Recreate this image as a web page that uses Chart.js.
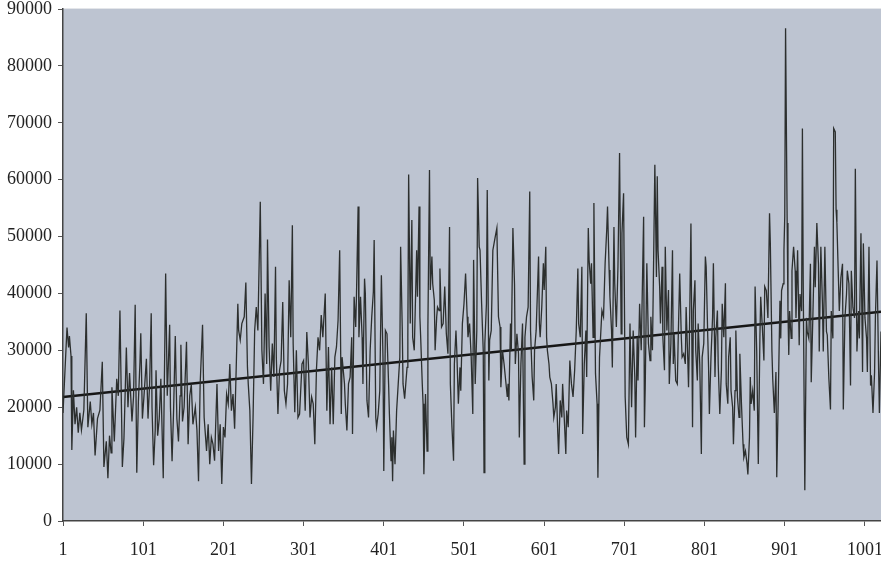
<!DOCTYPE html>
<html><head><meta charset="utf-8">
<script src="https://cdn.jsdelivr.net/npm/chart.js@4/dist/chart.umd.min.js"></script>
<style>html,body{margin:0;padding:0;background:#fff;}canvas{display:block;}</style>
</head><body>
<canvas id="c" width="881" height="566"></canvas>
<script>
const sampleIndex = [
1,6,8,9,11,12,14,16,18,20,
22,24,27,30,32,35,37,39,41,44,
47,50,52,55,57,59,61,62,65,68,
70,72,74,75,77,80,82,84,87,89,
91,93,95,97,98,100,102,105,107,109,
111,112,114,116,117,119,121,123,126,127,
129,131,132,134,135,137,139,141,143,145,
147,148,150,152,155,157,159,161,163,166,
168,170,172,175,177,180,182,184,186,188,
190,193,195,197,199,201,203,205,207,209,
211,213,215,217,219,220,222,224,227,229,
231,232,234,236,238,240,242,244,247,249,
251,253,255,256,258,260,262,264,266,267,
269,271,273,275,277,279,281,283,285,287,
288,290,292,294,296,299,301,303,305,307,
309,311,313,315,317,319,321,323,325,328,
330,332,334,336,338,340,342,344,346,348,
349,352,353,355,357,359,361,362,364,366,
367,369,370,372,374,375,377,378,380,382,
384,386,388,389,391,392,394,396,398,400,
401,403,405,407,408,410,411,412,413,415,
417,419,421,422,424,425,427,430,431,432,
434,436,437,439,441,442,443,445,446,447,
449,450,451,453,455,456,458,459,461,462,
464,465,467,468,470,471,473,475,477,479,
481,483,484,486,488,489,491,492,494,496,
497,499,501,503,505,506,508,510,512,513,
515,517,518,520,521,523,525,526,527,529,
530,532,533,535,537,540,542,544,546,547,
549,551,553,555,556,557,559,560,562,564,
565,567,569,570,572,574,576,577,579,581,
583,584,586,588,589,591,594,595,596,598,
600,601,603,604,605,607,608,610,612,613,
615,616,618,619,621,623,624,626,628,629,
631,633,635,637,639,641,643,644,646,648,
649,651,653,654,656,657,659,660,662,663,
665,667,668,670,673,675,677,679,680,682,
683,685,686,688,689,691,693,695,697,698,
700,702,704,706,708,710,712,714,715,717,
718,720,722,723,725,726,727,729,731,733,
734,736,737,739,741,742,743,745,746,748,
749,751,752,754,756,757,759,761,762,763,
765,767,768,770,772,773,775,777,778,780,
781,782,784,786,787,789,790,792,793,795,
797,798,800,802,803,805,806,807,809,811,
812,814,815,817,818,820,822,823,825,827,
828,830,831,833,834,836,837,839,840,842,
844,845,847,849,850,852,854,855,857,858,
859,861,863,864,866,868,870,871,873,875,
876,878,880,882,883,885,886,888,890,891,
893,895,896,897,899,900,901,902,904,905,
906,907,909,910,912,914,915,917,919,920,
922,923,924,926,928,929,931,933,934,936,
938,939,941,943,944,946,948,949,951,953,
954,956,958,959,961,962,964,965,966,968,
969,971,973,974,976,978,979,981,983,984,
986,988,989,991,993,994,996,998,999,1001,
1003,1004,1006,1008,1009,1011,1013,1014,1016,1018,
1019,1021
];
const sampleValue = [
19000,34000,30500,32500,29000,12500,23000,17000,20000,15500,
19000,16000,19500,36500,16500,21000,17000,19000,11500,18000,
19500,28000,9500,14000,7500,15000,12000,23500,14000,25000,
22000,37000,19000,9500,14500,30500,20000,26000,17500,22000,
38000,8500,21000,28000,33000,18000,22000,28500,18000,24000,
36500,20000,9800,16000,26500,15000,18000,25000,7500,20000,
43500,22000,26000,34500,20000,10500,20000,32500,18000,14000,
22000,31000,17500,20000,31500,13500,22000,24000,17000,20000,
16000,7000,24000,34500,18200,12300,17000,10000,14700,13500,
10600,24100,12300,17000,6500,16500,14700,22300,20600,27600,
19400,22300,16200,27000,38200,33500,31800,34700,35900,41900,
27000,24100,19400,6500,18200,33500,37600,33500,56100,30000,
24100,40000,27600,49500,30600,22900,31200,25300,44700,28800,
18800,26500,28200,38500,22900,20600,24100,42300,32300,52000,
31200,19100,30000,18200,18800,27600,28200,19400,33200,27600,
18200,21800,20600,13500,26500,32300,30000,36200,32300,40000,
19400,30600,17000,27000,17000,28800,30600,35300,47600,18800,
28800,24100,20600,15900,24100,25300,32300,15300,39400,34100,
40000,55300,32300,39400,32300,24100,42600,40000,21200,18200,
30000,35900,40300,49400,18200,16500,18800,22900,43200,28800,
8800,33500,32900,24100,18800,10600,14700,7000,15900,10000,
19400,24100,28800,48200,34100,24100,21500,27000,32300,60900,
34700,52900,32300,30000,41700,47600,39400,55300,35900,32300,
24100,20600,8200,22300,12300,34100,61700,40600,46500,41700,
38800,30000,35900,37600,37000,44400,34100,34700,41200,32900,
29400,51700,24100,16500,10600,27600,33500,30000,20600,27000,
22900,34700,38200,43500,35900,32300,34700,28800,18800,45900,
24100,33500,60300,48200,47600,38200,30000,8500,31200,38200,
58200,24700,31800,33500,47600,50000,51500,35900,34100,23500,
30000,27600,24700,21800,24100,21200,34700,30000,51500,41700,
27600,32900,29400,14700,27600,34700,10000,32300,35900,37600,
57900,33500,25300,21200,30000,33500,46500,34700,32300,37600,
45300,40600,48200,32300,30000,27600,25300,24100,20600,18200,
20000,24100,15300,11800,21200,18200,24100,18200,11800,19400,
16500,28200,24100,21800,26500,33500,44400,34700,32300,44700,
15300,27600,33500,25300,51500,45900,41700,45300,32300,55900,
25900,20600,7600,28800,37000,35900,45300,51200,55300,44100,
39400,33500,27000,51700,41700,34100,44700,64700,32900,50600,
57600,21800,14700,13500,34700,20000,33500,25300,14700,32300,
24700,38200,30000,37600,53500,16500,23500,45300,31200,28200,
35900,30000,40600,62600,42900,60600,47600,41200,34700,44700,
32300,26500,48200,33500,40600,24100,31200,47600,27600,32900,
24700,24100,31200,43500,32300,28800,29400,27600,37600,28800,
23500,31200,52300,16500,37000,42300,30000,24700,34700,27600,
11800,28800,31200,46500,44700,32300,27000,18800,28800,35900,
45300,25300,32300,37000,27600,18800,26500,38200,32300,41800,
24100,20600,28800,32300,22900,20000,13500,22900,33500,21800,
18200,29400,20600,13500,11200,12300,10000,8200,14700,25300,
20600,22900,19400,41200,30000,10000,32300,39400,34100,28200,
41200,40500,35700,54100,48800,29800,25000,19000,26200,7700,
22600,38700,32100,40500,41700,47600,53600,86600,52400,36900,
29200,36900,32100,44000,48200,44000,35700,47600,30900,39900,
36900,69000,42200,5400,35700,33300,32100,45200,24400,35700,
48200,41100,52400,45200,29800,48200,38100,29800,48200,33300,
32700,25000,19600,36900,32100,69000,68400,54700,52400,42200,
36900,42800,45200,19600,35700,39900,44000,41700,23800,44000,
37500,35700,61900,29800,36900,32100,50600,26200,48800,35700,
32100,26200,48200,23800,25600,19000,26200,35700,45800,26800,
19000,33300
];
const trendIndex = [1, 1021];
const trendValue = [21800, 36800];
const xTickValues = [1, 101, 201, 301, 401, 501, 601, 701, 801, 901, 1001];
const yTickValues = [0, 10000, 20000, 30000, 40000, 50000, 60000, 70000, 80000, 90000];

const plotBg = {
  id: 'plotBg',
  beforeDraw(chart) {
    const { ctx, chartArea: a } = chart;
    ctx.save();
    ctx.fillStyle = '#bdc4d1';
    ctx.fillRect(a.left, a.top, a.right - a.left, a.bottom - a.top);
    ctx.strokeStyle = '#e4e6ea';
    ctx.lineWidth = 1;
    ctx.beginPath();
    ctx.moveTo(a.left, a.top - 0.5);
    ctx.lineTo(a.right, a.top - 0.5);
    ctx.stroke();
    ctx.restore();
  }
};

const tickFont = { family: '"Liberation Serif", "Times New Roman", serif', size: 18 };

new Chart(document.getElementById('c'), {
  type: 'line',
  data: {
    datasets: [
      {
        data: sampleIndex.map((x, i) => ({ x: x, y: sampleValue[i] })),
        borderColor: '#2c2f2e',
        borderWidth: 1.3,
        pointRadius: 0,
        tension: 0
      },
      {
        data: trendIndex.map((x, i) => ({ x: x, y: trendValue[i] })),
        borderColor: '#161616',
        borderWidth: 2.5,
        pointRadius: 0,
        tension: 0
      }
    ]
  },
  options: {
    responsive: false,
    animation: false,
    layout: { padding: { top: 9, left: 0, right: 0, bottom: 0 } },
    plugins: { legend: { display: false }, tooltip: { enabled: false } },
    scales: {
      x: {
        type: 'linear',
        min: 1,
        max: 1021,
        afterBuildTicks(s) { s.ticks = xTickValues.map(v => ({ value: v })); },
        afterFit(s) { s.height = 45; s.paddingLeft = 0; s.paddingRight = 0; },
        ticks: { autoSkip: false, maxRotation: 0, color: '#222', font: tickFont, padding: 13, callback: v => String(v) },
        grid: { drawOnChartArea: false, drawTicks: true, tickLength: 5, color: '#555' },
        border: { display: true, color: '#444', width: 1.5 }
      },
      y: {
        type: 'linear',
        min: 0,
        max: 90000,
        afterBuildTicks(s) { s.ticks = yTickValues.map(v => ({ value: v })); },
        afterFit(s) { s.width = 63; s.paddingTop = 0; s.paddingBottom = 0; },
        ticks: { color: '#222', font: tickFont, padding: 6, callback: v => String(v) },
        grid: { drawOnChartArea: false, drawTicks: true, tickLength: 5, color: '#555' },
        border: { display: true, color: '#444', width: 1.5 }
      }
    }
  },
  plugins: [plotBg]
});
</script>
</body></html>
